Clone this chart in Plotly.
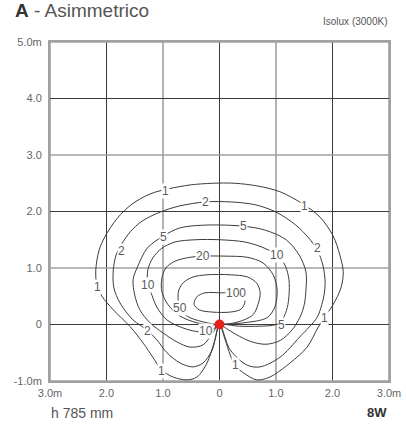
import plotly.graph_objects as go

# isolux lines (x, y in metres), luminaire at (0, 0)
c1_x = [0, -0.08, -0.22, -0.40, -0.58, -0.82, -1.02, -1.18, -1.35, -1.58, -1.88, -2.08, -2.17, -2.19, -2.13,
        -2.03, -1.81, -1.55, -1.23, -0.91, -0.52, -0.12, 0.27, 0.68, 1.07, 1.48, 1.78, 2.01, 2.13, 2.19,
        2.15, 2.01, 1.85, 1.74, 1.55, 1.25, 0.89, 0.66, 0.43, 0.27, 0.19, 0.10, 0]
c1_y = [0, -0.27, -0.68, -0.93, -0.98, -0.93, -0.81, -0.58, -0.33, -0.04, 0.26, 0.50, 0.70, 0.96, 1.32,
        1.55, 1.88, 2.13, 2.31, 2.40, 2.47, 2.50, 2.50, 2.45, 2.35, 2.13, 1.90, 1.57, 1.23, 0.93,
        0.65, 0.35, 0.12, -0.06, -0.40, -0.68, -0.93, -0.98, -0.86, -0.72, -0.54, -0.27, 0]

c2_x = [0, -0.13, -0.29, -0.47, -0.70, -0.93, -1.11, -1.28, -1.53, -1.76, -1.87, -1.88, -1.83, -1.74, -1.58,
        -1.37, -1.05, -0.70, -0.24, 0.19, 0.63, 1.00, 1.35, 1.58, 1.73, 1.83, 1.87, 1.85, 1.81, 1.73,
        1.42, 1.07, 0.72, 0.49, 0.19, 0]
c2_y = [0, -0.45, -0.68, -0.75, -0.68, -0.50, -0.27, -0.10, 0.08, 0.38, 0.65, 0.96, 1.23, 1.41, 1.64,
        1.83, 1.99, 2.10, 2.17, 2.17, 2.12, 1.99, 1.76, 1.53, 1.32, 1.05, 0.75, 0.52, 0.35, 0.13,
        -0.22, -0.58, -0.75, -0.72, -0.45, 0]

c5_x = [0, -0.12, -0.29, -0.52, -0.75, -1.00, -1.23, -1.41, -1.50, -1.53, -1.46, -1.28, -1.02, -0.70, -0.22,
        0.42, 0.81, 1.18, 1.41, 1.53, 1.53, 1.50, 1.42, 1.28, 1.08, 0.82, 0.55, 0.30, 0.12, 0]
c5_y = [0, -0.15, -0.36, -0.40, -0.31, -0.15, 0.03, 0.26, 0.52, 0.79, 1.00, 1.35, 1.55, 1.71, 1.76,
        1.74, 1.67, 1.50, 1.23, 0.93, 0.61, 0.35, 0.12, -0.10, -0.28, -0.35, -0.30, -0.18, -0.07, 0]

c10_x = [0, -0.08, -0.22, -0.43, -0.65, -0.93, -1.11, -1.23, -1.27, -1.27, -1.18, -1.02, -0.79, -0.43, 0.01,
         0.45, 0.75, 1.02, 1.16, 1.23, 1.23, 1.20, 1.12, 1.00, 0.70, 0.35, 0]
c10_y = [0, -0.06, -0.13, -0.12, -0.06, 0.08, 0.31, 0.61, 0.70, 0.96, 1.18, 1.35, 1.46, 1.50, 1.50,
         1.46, 1.37, 1.23, 1.05, 0.79, 0.52, 0.30, 0.10, 0.00, -0.03, -0.03, 0]

c20_x = [0, -0.12, -0.40, -0.70, -0.91, -1.02, -1.02, -0.95, -0.79, -0.52, -0.29, 0.10, 0.49, 0.77, 0.95,
         1.02, 0.98, 0.84, 0.43, 0]
c20_y = [0, -0.01, 0.03, 0.15, 0.35, 0.58, 0.82, 1.00, 1.12, 1.19, 1.21, 1.21, 1.19, 1.09, 0.88,
         0.61, 0.31, 0.12, 0.03, 0]

c50_x = [0, -0.22, -0.52, -0.66, -0.73, -0.72, -0.63, -0.47, -0.22, 0.19, 0.50, 0.66, 0.72, 0.68, 0.59, 0.31, 0]
c50_y = [0, 0.03, 0.12, 0.22, 0.43, 0.61, 0.75, 0.84, 0.88, 0.88, 0.84, 0.73, 0.56, 0.35, 0.17, 0.04, 0]

c100_x = [0.24, 0.42, 0.45, 0.38, 0.19, -0.13, -0.36, -0.45, -0.40, -0.26, 0.04, 0.24]
c100_y = [0.56, 0.50, 0.40, 0.27, 0.22, 0.22, 0.26, 0.36, 0.49, 0.56, 0.56, 0.56]

lines_x = [c1_x, c2_x, c5_x, c10_x, c20_x, c50_x, c100_x]
lines_y = [c1_y, c2_y, c5_y, c10_y, c20_y, c50_y, c100_y]

# contour labels
lab_text = ["1", "1", "1", "1", "1", "1", "2", "2", "2", "2", "5", "5", "5", "10", "10", "10", "20", "50", "100"]
lab_x = [-0.95, 1.50, -2.16, 1.85, -1.02, 0.29, -0.24, -1.74, 1.73, -1.28, -1.00, 0.43, 1.09,
         -1.27, 1.02, -0.24, -0.29, -0.70, 0.29]
lab_y = [2.36, 2.10, 0.66, 0.12, -0.82, -0.72, 2.17, 1.30, 1.35, -0.12, 1.55, 1.74, -0.01,
         0.70, 1.23, -0.12, 1.21, 0.29, 0.56]

x_ticks = [-3, -2, -1, 0, 1, 2, 3]
x_text = ["3.0m", "2.0", "1.0", "0", "1.0", "2.0", "3.0m"]
y_ticks = [-1, 0, 1, 2, 3, 4, 5]
y_text = ["-1.0m", "0", "1.0", "2.0", "3.0", "4.0", "5.0m"]

fig = go.Figure()

for xs, ys in zip(lines_x, lines_y):
    fig.add_trace(go.Scatter(x=xs, y=ys, mode="lines", line=dict(color="#3c3c3c", width=1, shape="spline", smoothing=0.9),
                             hoverinfo="skip", showlegend=False))

fig.add_trace(go.Scatter(x=[0], y=[0], mode="markers", marker=dict(color="#e3231b", size=10),
                         hoverinfo="skip", showlegend=False))

# grid: even metres dark, odd metres grey
for v in x_ticks:
    c = "#3a3a3a" if v % 2 == 0 else "#a0a0a0"
    fig.add_shape(type="line", x0=v, x1=v, y0=-1, y1=5, xref="x", yref="y", layer="below",
                  line=dict(color=c, width=1 if v % 2 == 0 else 1.6))
for v in y_ticks:
    c = "#3a3a3a" if v % 2 == 0 else "#a0a0a0"
    fig.add_shape(type="line", x0=-3, x1=3, y0=v, y1=v, xref="x", yref="y", layer="below",
                  line=dict(color=c, width=1 if v % 2 == 0 else 1.6))

for t, x, y in zip(lab_text, lab_x, lab_y):
    fig.add_annotation(x=x, y=y, text=t, showarrow=False, bgcolor="white", borderpad=0,
                       font=dict(size=12, color="#5a5a5a"))

fig.add_annotation(x=-0.109, y=1.092, xref="paper", yref="paper", xanchor="left", yanchor="middle",
                   text="<b>A</b><span style='color:#555'> - Asimmetrico</span>", showarrow=False,
                   font=dict(size=19, color="#333"))
fig.add_annotation(x=1.0, y=1.059, xref="paper", yref="paper", xanchor="right", yanchor="middle",
                   text="Isolux (3000K)", showarrow=False, font=dict(size=10, color="#555"))
fig.add_annotation(x=-0.003, y=-0.094, xref="paper", yref="paper", xanchor="left", yanchor="middle",
                   text="h 785 mm", showarrow=False, font=dict(size=14, color="#555"))
fig.add_annotation(x=1.0, y=-0.094, xref="paper", yref="paper", xanchor="right", yanchor="middle",
                   text="<b>8W</b>", showarrow=False, font=dict(size=13, color="#333"))

fig.update_layout(
    width=406, height=425,
    margin=dict(l=50, r=17, t=42, b=44),
    paper_bgcolor="white", plot_bgcolor="white",
    font=dict(family="Liberation Sans, Arial, sans-serif"),
    xaxis=dict(range=[-3, 3], tickvals=x_ticks, ticktext=x_text, showgrid=False, zeroline=False,
               showline=True, mirror=True, linecolor="#a0a0a0", linewidth=2, automargin=False,
               ticks="outside", ticklen=1, tickcolor="rgba(0,0,0,0)", tickfont=dict(size=11, color="#666")),
    yaxis=dict(range=[-1, 5], tickvals=y_ticks, ticktext=y_text, showgrid=False, zeroline=False,
               showline=True, mirror=True, linecolor="#a0a0a0", linewidth=2, automargin=False,
               ticks="outside", ticklen=4, tickcolor="rgba(0,0,0,0)", tickfont=dict(size=11, color="#666")),
)

# the page body has a default 8px margin; remove it so the figure fills the window
fig.write_html("out.html", config={"displayModeBar": False},
               post_script="document.body.style.margin='0';")
